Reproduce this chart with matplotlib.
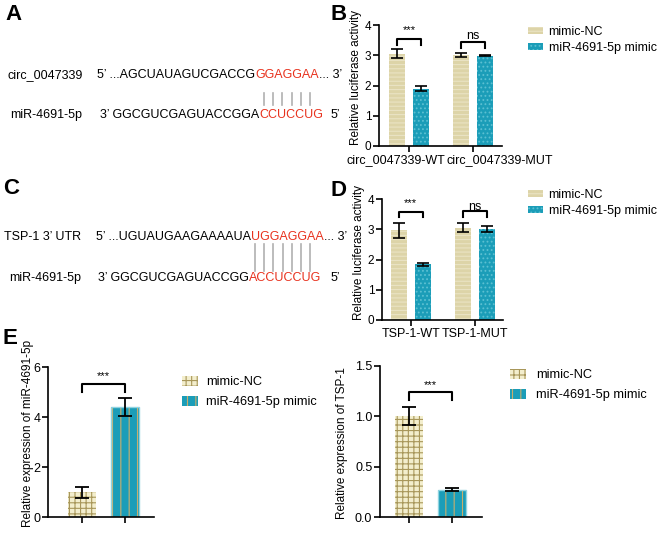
import numpy as np
import matplotlib
matplotlib.use("Agg")
import matplotlib.pyplot as plt
from matplotlib.transforms import offset_copy

plt.rcParams['font.family'] = ['Liberation Sans', 'DejaVu Sans']
plt.rcParams['hatch.linewidth'] = 0.8

# ---- data ----
groups_b = ["circ_0047339-WT", "circ_0047339-MUT"]
nc_b = [3.05, 3.00]
nc_b_err = [0.15, 0.07]
mimic_b = [1.90, 2.98]
mimic_b_err = [0.07, 0.02]
sig_b = ["***", "ns"]

groups_d = ["TSP-1-WT", "TSP-1-MUT"]
nc_d = [2.97, 3.05]
nc_d_err = [0.25, 0.15]
mimic_d = [1.85, 3.00]
mimic_d_err = [0.05, 0.10]
sig_d = ["***", "ns"]

e1_vals = [1.0, 4.4]
e1_err = [0.22, 0.37]
e2_vals = [1.0, 0.27]
e2_err = [0.09, 0.015]

series = ["mimic-NC", "miR-4691-5p mimic"]

BEIGE = "#ddd4a8"
BEIGE_H = "#eae3c4"
TEAL = "#1b9db8"
TEAL_H = "#5cc0d2"
CREAM = "#f3eecd"
OLIVE = "#a8975a"
TAN = "#c9ae6c"

W, H = 660, 541
fig = plt.figure(figsize=(6.6, 5.41), dpi=100)


def px_axes(l, t, r, b):
    return fig.add_axes([l / W, 1 - b / H, (r - l) / W, (b - t) / H])


def style(ax):
    for s in ["top", "right"]:
        ax.spines[s].set_visible(False)
    for s in ["left", "bottom"]:
        ax.spines[s].set_linewidth(1.2)
    ax.tick_params(width=1.2, length=4, labelsize=9, pad=1.5)


def bracket(ax, x1, x2, top, bot, label, ty):
    ax.plot([x1, x1, x2, x2], [bot, top, top, bot], color="black", lw=1.5,
            clip_on=False)
    ax.text((x1 + x2) / 2, ty, label, ha="center", va="center",
            fontsize=8 if label == "***" else 9)


def luc_panel(ax, groups, nc, nce, mi, mie, sig, brk, xlim):
    x = np.arange(len(groups))
    off, bw = 0.19, 0.25
    b1 = ax.bar(x - off, nc, bw, color=BEIGE, edgecolor=BEIGE_H, hatch="----", lw=0)
    b2 = ax.bar(x + off, mi, bw, color=TEAL, edgecolor=TEAL_H, hatch="....", lw=0)
    ax.errorbar(x - off, nc, yerr=nce, fmt="none", ecolor="black",
                elinewidth=1.2, capsize=4.3, capthick=1.2)
    ax.errorbar(x + off, mi, yerr=mie, fmt="none", ecolor="black",
                elinewidth=1.2, capsize=4.3, capthick=1.2)
    for i, s in enumerate(sig):
        top, bot, ty = brk[i]
        bracket(ax, x[i] - off, x[i] + off, top, bot, s, ty)
    ax.set_ylim(0, 4)
    ax.set_yticks([0, 1, 2, 3, 4])
    ax.set_xlim(*xlim)
    ax.set_xticks(x)
    ax.set_xticklabels(groups)
    style(ax)
    ax.tick_params(axis="y", labelsize=8.5)
    ax.set_ylabel("Relative luciferase activity", fontsize=8.5)
    return b1, b2


# ---- panel B ----
axB = px_axes(379, 25, 502, 146)
hB = luc_panel(axB, groups_b, nc_b, nc_b_err, mimic_b, mimic_b_err, sig_b,
               [(3.53, 3.34, 3.82), (3.43, 3.24, 3.65)], (-0.47, 1.45))
axB.yaxis.set_label_coords(-0.135, 0.57)
tl = axB.get_xticklabels()
tl[0].set_transform(offset_copy(tl[0].get_transform(), fig=fig, x=-13, y=0, units="dots"))
tl[1].set_transform(offset_copy(tl[1].get_transform(), fig=fig, x=27, y=0, units="dots"))

# ---- panel D ----
axD = px_axes(382, 199, 503, 320)
hD = luc_panel(axD, groups_d, nc_d, nc_d_err, mimic_d, mimic_d_err, sig_d,
               [(3.57, 3.40, 3.88), (3.60, 3.40, 3.75)], (-0.45, 1.44))
axD.yaxis.set_label_coords(-0.14, 0.56)

for ax, hs, top in [(axB, hB, 26), (axD, hD, 189)]:
    ax.legend(hs, series, loc="upper left", bbox_to_anchor=(528 / W, 1 - top / H),
              bbox_transform=fig.transFigure, frameon=False, fontsize=9,
              handlelength=1.2, handleheight=0.5, handletextpad=0.45,
              labelspacing=0.3, borderpad=0, borderaxespad=0)


# ---- panel E ----
def expr_panel(ax, vals, err, ylim, yticks, fmt, ylabel, brk, xlim):
    x = np.arange(2)
    ax.bar(x[0], vals[0], 0.66, color=CREAM, edgecolor=OLIVE, hatch="+++",
           lw=0, label=series[0])
    ax.bar(x[1], vals[1], 0.66, color=TEAL, edgecolor=TAN, hatch="||",
           lw=0, label=series[1])
    ax.bar(x[1], vals[1], 0.66, color="none", edgecolor="#8fd3e0", lw=1.0)
    ax.errorbar(x, vals, yerr=err, fmt="none", ecolor="black",
                elinewidth=1.3, capsize=5, capthick=1.3)
    top, bot, ty = brk
    bracket(ax, x[0], x[1], top, bot, "***", ty)
    ax.set_ylim(*ylim)
    ax.set_yticks(yticks)
    ax.set_yticklabels([fmt.format(v) for v in yticks])
    ax.set_xlim(*xlim)
    ax.set_xticks(x)
    ax.set_xticklabels(["", ""])
    style(ax)
    ax.set_ylabel(ylabel, fontsize=8.5)


axE1 = px_axes(48, 367, 154, 517)
expr_panel(axE1, e1_vals, e1_err, (0, 6), [0, 2, 4, 6], "{:g}",
           "Relative expression of miR-4691-5p", (5.32, 5.0, 5.64), (-0.79, 1.67))
axE1.yaxis.set_label_coords(-0.13, 0.56)

axE2 = px_axes(380, 366, 482, 517)
expr_panel(axE2, e2_vals, e2_err, (0, 1.5), [0, 0.5, 1.0, 1.5], "{:.1f}",
           "Relative expression of TSP-1", (1.24, 1.16, 1.31), (-0.67, 1.70))
axE2.yaxis.set_label_coords(-0.31, 0.49)

for ax, left, top, pad in [(axE1, 182, 376, 0.65), (axE2, 510, 369, 0.8)]:
    h, l = ax.get_legend_handles_labels()
    ax.legend(h, l, loc="upper left", bbox_to_anchor=(left / W, 1 - top / H),
              bbox_transform=fig.transFigure, frameon=False, fontsize=9.2,
              handlelength=1.25, handleheight=0.8, handletextpad=pad,
              labelspacing=0.6, borderpad=0, borderaxespad=0)

# ---- panel letters ----
for lab, x, y in [("A", 5, 14), ("B", 330, 14), ("C", 3, 189), ("D", 330, 191),
                  ("E", 3, 339)]:
    fig.text(x / W, 1 - y / H, lab, fontsize=16, fontweight="bold",
             va="center", ha="left")


# ---- sequence panels A and C ----
def seq_line(name, x_name, x_seq, y, parts):
    fig.text(x_name / W, 1 - y / H, name, fontsize=9, va="center")
    r = fig.canvas.get_renderer()
    x = x_seq
    for txt, col in parts:
        t = fig.text(x / W, 1 - y / H, txt, fontsize=9, va="center", color=col)
        x = t.get_window_extent(renderer=r).x1
    return x


def pair_lines(x0, x1, n, y0, y1):
    for xx in np.linspace(x0, x1, n):
        fig.add_artist(plt.Line2D([xx / W, xx / W], [1 - y0 / H, 1 - y1 / H],
                                  color="#b0b0b0", lw=1.2))


RED = "#e8321e"
seq_line("circ_0047339", 8, 97, 75,
         [("5\u2019 ...AGCUAUAGUCGACCG", "black"), ("GGAGGAA", RED), ("... 3\u2019", "black")])
seq_line("miR-4691-5p", 10, 100, 115,
         [("3\u2019 GGCGUCGAGUACCGGA", "black"), ("CCUCCUG", RED)])
fig.text(331 / W, 1 - 115 / H, "5\u2019", fontsize=9, va="center")
pair_lines(264, 310, 6, 93, 105)

seq_line("TSP-1 3\u2019 UTR", 4, 96, 237,
         [("5\u2019 ...UGUAUGAAGAAAAUA", "black"), ("UGGAGGAA", RED), ("... 3\u2019", "black")])
seq_line("miR-4691-5p", 9, 98, 278,
         [("3\u2019 GGCGUCGAGUACCGG", "black"), ("ACCUCCUG", RED)])
fig.text(331 / W, 1 - 278 / H, "5\u2019", fontsize=9, va="center")
pair_lines(255, 310, 7, 244, 271)

fig.savefig("out.png", dpi=100)
